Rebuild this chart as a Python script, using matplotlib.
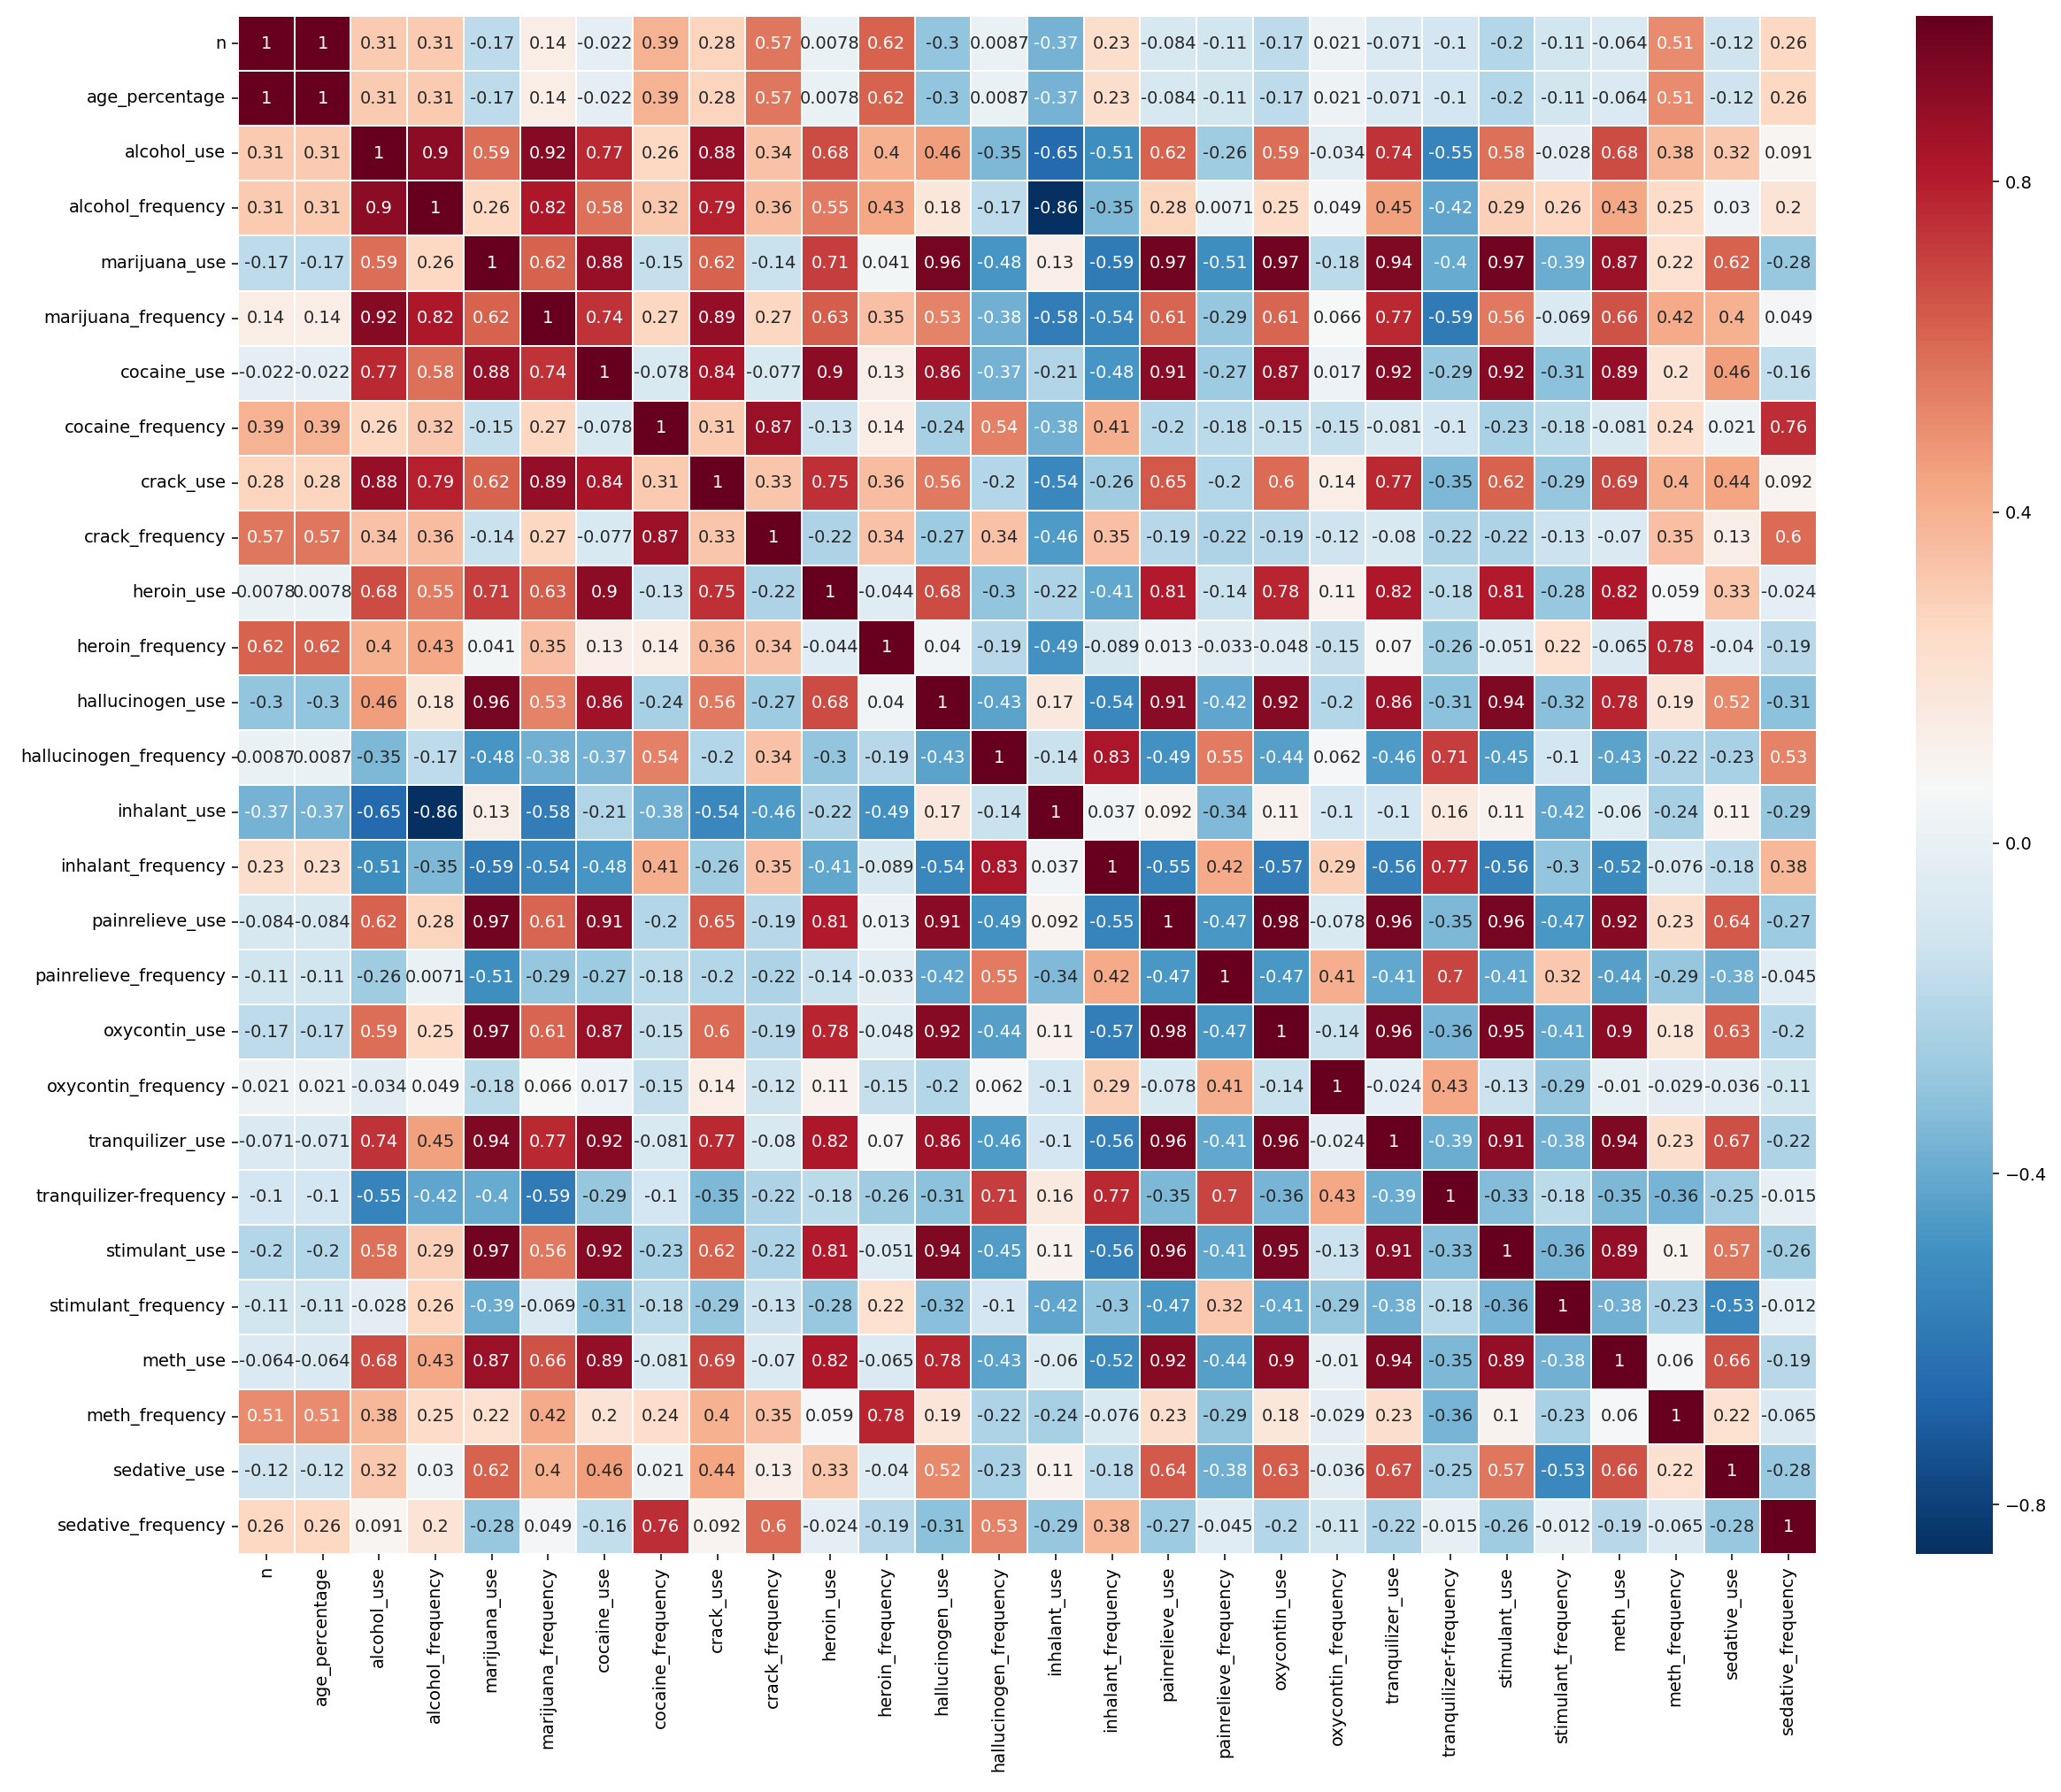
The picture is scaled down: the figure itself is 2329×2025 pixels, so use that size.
import numpy as np
import pandas as pd
import matplotlib
matplotlib.use("Agg")
import matplotlib.pyplot as plt
import seaborn as sns

labels = ["n", "age_percentage", "alcohol_use", "alcohol_frequency",
          "marijuana_use", "marijuana_frequency", "cocaine_use",
          "cocaine_frequency", "crack_use", "crack_frequency", "heroin_use",
          "heroin_frequency", "hallucinogen_use", "hallucinogen_frequency",
          "inhalant_use", "inhalant_frequency", "painrelieve_use",
          "painrelieve_frequency", "oxycontin_use", "oxycontin_frequency",
          "tranquilizer_use", "tranquilizer-frequency", "stimulant_use",
          "stimulant_frequency", "meth_use", "meth_frequency",
          "sedative_use", "sedative_frequency"]

# correlation matrix, row by row
corr_values = [
    [1, 1, 0.31, 0.31, -0.17, 0.14, -0.022, 0.39, 0.28, 0.57, 0.0078, 0.62, -0.3, 0.0087, -0.37, 0.23, -0.084, -0.11, -0.17, 0.021, -0.071, -0.1, -0.2, -0.11, -0.064, 0.51, -0.12, 0.26],
    [1, 1, 0.31, 0.31, -0.17, 0.14, -0.022, 0.39, 0.28, 0.57, 0.0078, 0.62, -0.3, 0.0087, -0.37, 0.23, -0.084, -0.11, -0.17, 0.021, -0.071, -0.1, -0.2, -0.11, -0.064, 0.51, -0.12, 0.26],
    [0.31, 0.31, 1, 0.9, 0.59, 0.92, 0.77, 0.26, 0.88, 0.34, 0.68, 0.4, 0.46, -0.35, -0.65, -0.51, 0.62, -0.26, 0.59, -0.034, 0.74, -0.55, 0.58, -0.028, 0.68, 0.38, 0.32, 0.091],
    [0.31, 0.31, 0.9, 1, 0.26, 0.82, 0.58, 0.32, 0.79, 0.36, 0.55, 0.43, 0.18, -0.17, -0.86, -0.35, 0.28, 0.0071, 0.25, 0.049, 0.45, -0.42, 0.29, 0.26, 0.43, 0.25, 0.03, 0.2],
    [-0.17, -0.17, 0.59, 0.26, 1, 0.62, 0.88, -0.15, 0.62, -0.14, 0.71, 0.041, 0.96, -0.48, 0.13, -0.59, 0.97, -0.51, 0.97, -0.18, 0.94, -0.4, 0.97, -0.39, 0.87, 0.22, 0.62, -0.28],
    [0.14, 0.14, 0.92, 0.82, 0.62, 1, 0.74, 0.27, 0.89, 0.27, 0.63, 0.35, 0.53, -0.38, -0.58, -0.54, 0.61, -0.29, 0.61, 0.066, 0.77, -0.59, 0.56, -0.069, 0.66, 0.42, 0.4, 0.049],
    [-0.022, -0.022, 0.77, 0.58, 0.88, 0.74, 1, -0.078, 0.84, -0.077, 0.9, 0.13, 0.86, -0.37, -0.21, -0.48, 0.91, -0.27, 0.87, 0.017, 0.92, -0.29, 0.92, -0.31, 0.89, 0.2, 0.46, -0.16],
    [0.39, 0.39, 0.26, 0.32, -0.15, 0.27, -0.078, 1, 0.31, 0.87, -0.13, 0.14, -0.24, 0.54, -0.38, 0.41, -0.2, -0.18, -0.15, -0.15, -0.081, -0.1, -0.23, -0.18, -0.081, 0.24, 0.021, 0.76],
    [0.28, 0.28, 0.88, 0.79, 0.62, 0.89, 0.84, 0.31, 1, 0.33, 0.75, 0.36, 0.56, -0.2, -0.54, -0.26, 0.65, -0.2, 0.6, 0.14, 0.77, -0.35, 0.62, -0.29, 0.69, 0.4, 0.44, 0.092],
    [0.57, 0.57, 0.34, 0.36, -0.14, 0.27, -0.077, 0.87, 0.33, 1, -0.22, 0.34, -0.27, 0.34, -0.46, 0.35, -0.19, -0.22, -0.19, -0.12, -0.08, -0.22, -0.22, -0.13, -0.07, 0.35, 0.13, 0.6],
    [0.0078, 0.0078, 0.68, 0.55, 0.71, 0.63, 0.9, -0.13, 0.75, -0.22, 1, -0.044, 0.68, -0.3, -0.22, -0.41, 0.81, -0.14, 0.78, 0.11, 0.82, -0.18, 0.81, -0.28, 0.82, 0.059, 0.33, -0.024],
    [0.62, 0.62, 0.4, 0.43, 0.041, 0.35, 0.13, 0.14, 0.36, 0.34, -0.044, 1, 0.04, -0.19, -0.49, -0.089, 0.013, -0.033, -0.048, -0.15, 0.07, -0.26, -0.051, 0.22, -0.065, 0.78, -0.04, -0.19],
    [-0.3, -0.3, 0.46, 0.18, 0.96, 0.53, 0.86, -0.24, 0.56, -0.27, 0.68, 0.04, 1, -0.43, 0.17, -0.54, 0.91, -0.42, 0.92, -0.2, 0.86, -0.31, 0.94, -0.32, 0.78, 0.19, 0.52, -0.31],
    [0.0087, 0.0087, -0.35, -0.17, -0.48, -0.38, -0.37, 0.54, -0.2, 0.34, -0.3, -0.19, -0.43, 1, -0.14, 0.83, -0.49, 0.55, -0.44, 0.062, -0.46, 0.71, -0.45, -0.1, -0.43, -0.22, -0.23, 0.53],
    [-0.37, -0.37, -0.65, -0.86, 0.13, -0.58, -0.21, -0.38, -0.54, -0.46, -0.22, -0.49, 0.17, -0.14, 1, 0.037, 0.092, -0.34, 0.11, -0.1, -0.1, 0.16, 0.11, -0.42, -0.06, -0.24, 0.11, -0.29],
    [0.23, 0.23, -0.51, -0.35, -0.59, -0.54, -0.48, 0.41, -0.26, 0.35, -0.41, -0.089, -0.54, 0.83, 0.037, 1, -0.55, 0.42, -0.57, 0.29, -0.56, 0.77, -0.56, -0.3, -0.52, -0.076, -0.18, 0.38],
    [-0.084, -0.084, 0.62, 0.28, 0.97, 0.61, 0.91, -0.2, 0.65, -0.19, 0.81, 0.013, 0.91, -0.49, 0.092, -0.55, 1, -0.47, 0.98, -0.078, 0.96, -0.35, 0.96, -0.47, 0.92, 0.23, 0.64, -0.27],
    [-0.11, -0.11, -0.26, 0.0071, -0.51, -0.29, -0.27, -0.18, -0.2, -0.22, -0.14, -0.033, -0.42, 0.55, -0.34, 0.42, -0.47, 1, -0.47, 0.41, -0.41, 0.7, -0.41, 0.32, -0.44, -0.29, -0.38, -0.045],
    [-0.17, -0.17, 0.59, 0.25, 0.97, 0.61, 0.87, -0.15, 0.6, -0.19, 0.78, -0.048, 0.92, -0.44, 0.11, -0.57, 0.98, -0.47, 1, -0.14, 0.96, -0.36, 0.95, -0.41, 0.9, 0.18, 0.63, -0.2],
    [0.021, 0.021, -0.034, 0.049, -0.18, 0.066, 0.017, -0.15, 0.14, -0.12, 0.11, -0.15, -0.2, 0.062, -0.1, 0.29, -0.078, 0.41, -0.14, 1, -0.024, 0.43, -0.13, -0.29, -0.01, -0.029, -0.036, -0.11],
    [-0.071, -0.071, 0.74, 0.45, 0.94, 0.77, 0.92, -0.081, 0.77, -0.08, 0.82, 0.07, 0.86, -0.46, -0.1, -0.56, 0.96, -0.41, 0.96, -0.024, 1, -0.39, 0.91, -0.38, 0.94, 0.23, 0.67, -0.22],
    [-0.1, -0.1, -0.55, -0.42, -0.4, -0.59, -0.29, -0.1, -0.35, -0.22, -0.18, -0.26, -0.31, 0.71, 0.16, 0.77, -0.35, 0.7, -0.36, 0.43, -0.39, 1, -0.33, -0.18, -0.35, -0.36, -0.25, -0.015],
    [-0.2, -0.2, 0.58, 0.29, 0.97, 0.56, 0.92, -0.23, 0.62, -0.22, 0.81, -0.051, 0.94, -0.45, 0.11, -0.56, 0.96, -0.41, 0.95, -0.13, 0.91, -0.33, 1, -0.36, 0.89, 0.1, 0.57, -0.26],
    [-0.11, -0.11, -0.028, 0.26, -0.39, -0.069, -0.31, -0.18, -0.29, -0.13, -0.28, 0.22, -0.32, -0.1, -0.42, -0.3, -0.47, 0.32, -0.41, -0.29, -0.38, -0.18, -0.36, 1, -0.38, -0.23, -0.53, -0.012],
    [-0.064, -0.064, 0.68, 0.43, 0.87, 0.66, 0.89, -0.081, 0.69, -0.07, 0.82, -0.065, 0.78, -0.43, -0.06, -0.52, 0.92, -0.44, 0.9, -0.01, 0.94, -0.35, 0.89, -0.38, 1, 0.06, 0.66, -0.19],
    [0.51, 0.51, 0.38, 0.25, 0.22, 0.42, 0.2, 0.24, 0.4, 0.35, 0.059, 0.78, 0.19, -0.22, -0.24, -0.076, 0.23, -0.29, 0.18, -0.029, 0.23, -0.36, 0.1, -0.23, 0.06, 1, 0.22, -0.065],
    [-0.12, -0.12, 0.32, 0.03, 0.62, 0.4, 0.46, 0.021, 0.44, 0.13, 0.33, -0.04, 0.52, -0.23, 0.11, -0.18, 0.64, -0.38, 0.63, -0.036, 0.67, -0.25, 0.57, -0.53, 0.66, 0.22, 1, -0.28],
    [0.26, 0.26, 0.091, 0.2, -0.28, 0.049, -0.16, 0.76, 0.092, 0.6, -0.024, -0.19, -0.31, 0.53, -0.29, 0.38, -0.27, -0.045, -0.2, -0.11, -0.22, -0.015, -0.26, -0.012, -0.19, -0.065, -0.28, 1],
]

corr = pd.DataFrame(np.array(corr_values), index=labels, columns=labels)

fig = plt.figure(figsize=(2329 / 140, 2025 / 140), dpi=140)
ax = fig.add_axes([0.1155, 0.1328, 0.766, 0.8582])
cax = fig.add_axes([0.9296, 0.1328, 0.0374, 0.8582])

sns.heatmap(corr, annot=True, cmap="RdBu_r", linewidths=1, ax=ax,
            cbar_ax=cax, annot_kws={"size": 10})

ax.tick_params(axis="y", labelrotation=0)
ax.tick_params(axis="x", labelrotation=90)
cax.set_yticks([-0.8, -0.4, 0.0, 0.4, 0.8])

fig.savefig("out.png", dpi=140)
